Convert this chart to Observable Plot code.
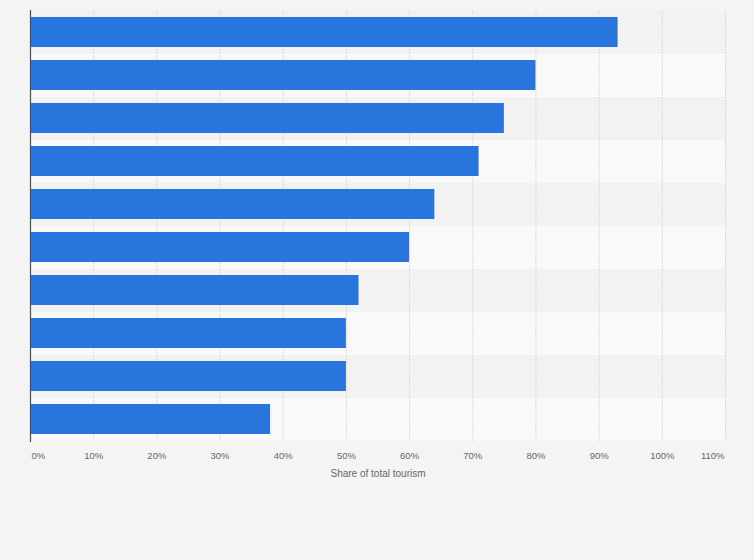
<!DOCTYPE html>
<html>
<head>
<meta charset="utf-8">
<script src="https://cdn.jsdelivr.net/npm/d3@7"></script>
<script src="https://cdn.jsdelivr.net/npm/@observablehq/plot@0.6"></script>
<style>
  html, body { margin: 0; padding: 0; background: #f4f4f4; }
  #chart svg { display: block; }
</style>
</head>
<body>
<div id="chart"></div>
<script>
const categories = ["Category 1", "Category 2", "Category 3", "Category 4", "Category 5",
                    "Category 6", "Category 7", "Category 8", "Category 9", "Category 10"];
const shares = [93, 80, 75, 71, 64, 60, 52, 50, 50, 38];
const xTicks = [0, 10, 20, 30, 40, 50, 60, 70, 80, 90, 100, 110];
const xLabel = "Share of total tourism";

const data = categories.map((c, i) => ({category: c, share: shares[i]}));
const bands = categories.map((c, i) => ({category: c, fill: i % 2 === 0 ? "#f2f2f2" : "#f9f9f9"}));
const fmt = d => d + "%";
const font = "'Liberation Sans', Arial, sans-serif";

const chart = Plot.plot({
  width: 754,
  height: 560,
  marginTop: 10,
  marginBottom: 118,
  marginLeft: 30,
  marginRight: 29,
  style: {background: "#f4f4f4", fontFamily: font},
  x: {domain: [0, 110], axis: null},
  y: {domain: categories, padding: 0, axis: null},
  color: {type: "identity"},
  marks: [
    Plot.barX(bands, {x1: 0, x2: 110, y: "category", fill: "fill"}),
    Plot.ruleX(xTicks.slice(1), {stroke: "#d9d9d9", strokeWidth: 1, strokeDasharray: "2,1"}),
    Plot.barX(data, {x: "share", y: "category", fill: "#2876dd", insetTop: 6, insetBottom: 7}),
    Plot.ruleX([0], {stroke: "#4d4d4d", strokeWidth: 1.2}),
    Plot.text(xTicks.slice(0, 1), {x: d => d, text: fmt, frameAnchor: "bottom", dy: 16, dx: 1, textAnchor: "start", fill: "#666", fontSize: 9.5}),
    Plot.text(xTicks.slice(1, -1), {x: d => d, text: fmt, frameAnchor: "bottom", dy: 16, textAnchor: "middle", fill: "#666", fontSize: 9.5}),
    Plot.text(xTicks.slice(-1), {x: d => d, text: fmt, frameAnchor: "bottom", dy: 16, dx: -1, textAnchor: "end", fill: "#666", fontSize: 9.5}),
    Plot.text([xLabel], {text: d => d, frameAnchor: "bottom", dy: 34, fill: "#666", fontSize: 10})
  ]
});
document.getElementById("chart").appendChild(chart);
</script>
</body>
</html>
